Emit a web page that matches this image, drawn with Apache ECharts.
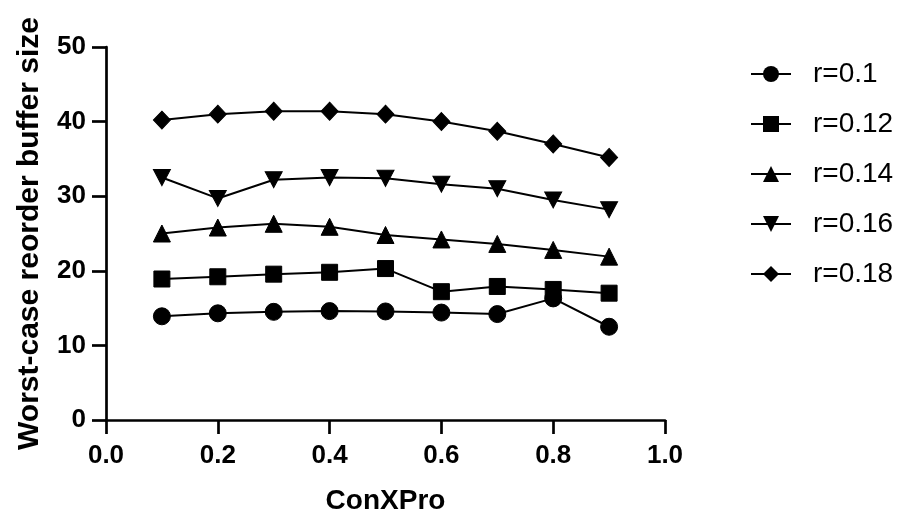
<!DOCTYPE html>
<html>
<head>
<meta charset="utf-8">
<script src="https://cdn.jsdelivr.net/npm/echarts@6/dist/echarts.min.js"></script>
<style>
  html, body { margin: 0; padding: 0; background: #fff; }
  #chart { width: 904px; height: 519px; }
</style>
</head>
<body>
<div id="chart"></div>
<script>
// ConXPro values on the horizontal axis
const conxpro = [0.1, 0.2, 0.3, 0.4, 0.5, 0.6, 0.7, 0.8, 0.9];

// Worst-case reorder buffer size for each r
const r010 = [13.9, 14.3, 14.5, 14.6, 14.55, 14.4, 14.2, 16.3, 12.5];
const r012 = [18.9, 19.2, 19.55, 19.8, 20.3, 17.2, 17.9, 17.5, 17.0];
const r014 = [25.0, 25.8, 26.3, 25.9, 24.8, 24.2, 23.6, 22.8, 21.9];
const r016 = [32.5, 29.7, 32.2, 32.5, 32.4, 31.6, 31.0, 29.5, 28.2];
const r018 = [40.2, 41.0, 41.4, 41.4, 41.0, 40.0, 38.7, 37.0, 35.2];

const seriesNames = ['r=0.1', 'r=0.12', 'r=0.14', 'r=0.16', 'r=0.18'];
const seriesData = [r010, r012, r014, r016, r018];
const symbols = [
  'circle',
  'rect',
  'triangle',
  'path://M0,0 L10,0 L5,9 Z',
  'diamond'
];
const symbolSizes = [17, 16, 17, [17, 16], [17, 18]];

const font = '"Liberation Sans", Arial, sans-serif';

const chart = echarts.init(document.getElementById('chart'), null, { renderer: 'canvas' });

chart.setOption({
  animation: false,
  backgroundColor: '#fff',
  grid: { left: 106, right: 239, top: 47, bottom: 99, containLabel: false, outerBoundsMode: 'none' },
  legend: {
    orient: 'vertical',
    left: 745,
    top: 55,
    itemWidth: 40,
    itemHeight: 20,
    itemGap: 22,
    data: seriesNames,
    textStyle: { fontFamily: font, fontSize: 28, color: '#000', padding: [0, 0, 0, 17] }
  },
  xAxis: {
    type: 'value',
    min: 0,
    max: 1,
    interval: 0.2,
    name: 'ConXPro',
    nameLocation: 'middle',
    nameGap: 67,
    nameTextStyle: { fontFamily: font, fontSize: 28, fontWeight: 'bold', color: '#000' },
    axisLine: { show: true, lineStyle: { color: '#000', width: 2.7 } },
    axisTick: { show: true, inside: false, length: 14, lineStyle: { color: '#000', width: 2.7 } },
    axisLabel: {
      fontFamily: font, fontSize: 26, fontWeight: 'bold', color: '#000', margin: 23,
      formatter: v => v.toFixed(1)
    },
    splitLine: { show: false }
  },
  yAxis: {
    type: 'value',
    min: 0,
    max: 50,
    interval: 10,
    name: 'Worst-case reorder buffer size',
    nameLocation: 'middle',
    nameRotate: 90,
    nameGap: 61,
    nameTextStyle: { fontFamily: font, fontSize: 30, fontWeight: 'bold', color: '#000' },
    axisLine: { show: true, lineStyle: { color: '#000', width: 2.7 } },
    axisTick: { show: true, inside: false, length: 14, lineStyle: { color: '#000', width: 2.7 } },
    axisLabel: { fontFamily: font, fontSize: 26, fontWeight: 'bold', color: '#000', margin: 20 },
    splitLine: { show: false }
  },
  series: seriesNames.map((name, i) => ({
    name,
    type: 'line',
    data: conxpro.map((x, j) => [x, seriesData[i][j]]),
    symbol: symbols[i],
    symbolSize: symbolSizes[i],
    showAllSymbol: true,
    lineStyle: { color: '#000', width: 2 },
    itemStyle: { color: '#000', borderColor: '#000' },
    emphasis: { disabled: true }
  }))
});
</script>
</body>
</html>
